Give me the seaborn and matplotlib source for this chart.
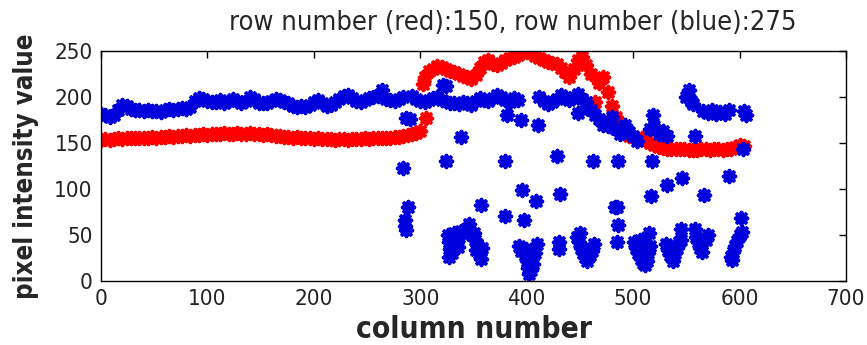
import matplotlib
matplotlib.use('Agg')
import matplotlib.pyplot as plt
from matplotlib import font_manager
import numpy as np
import pandas as pd
import seaborn as sns

# red row (row 150), one sample every 4 columns
red_cols = np.arange(0, 608, 4)
red_vals = [153, 154, 153, 154, 155, 154, 155, 155, 156, 155, 156, 156, 157, 156, 157, 157,
            158, 157, 158, 158, 159, 158, 159, 159, 160, 159, 160, 160, 160, 161, 160, 160,
            161, 160, 160, 161, 160, 160, 159, 160, 159, 158, 158, 157, 157, 156, 157, 156,
            155, 155, 154, 155, 154, 154, 154, 153, 154, 154, 153, 154, 154, 154, 155, 154,
            155, 155, 155, 156, 156, 157, 157, 158, 159, 160, 161, 163, 222, 228, 231, 234,
            233, 230, 228, 227, 225, 223, 222, 220, 224, 232, 238, 240, 236, 235, 237, 240,
            242, 244, 246, 248, 249, 248, 245, 242, 240, 238, 237, 236, 232, 227, 222, 230,
            240, 243, 235, 225, 195, 215, 222, 205, 190, 178, 165, 160, 158, 157, 156, 155,
            152, 150, 148, 146, 145, 144, 144, 143, 143, 143, 142, 142, 142, 143, 143, 142,
            143, 143, 142, 143, 144, 146, 148, 147]
red_extra_cols = [305, 303, 462]
red_extra_vals = [177, 214, 190]

# blue row (row 275): the continuous band
blue_cols = [0, 4, 8, 12, 16, 20, 24, 28, 32, 36, 40, 44, 48, 52, 56, 60, 64, 68, 72, 76,
             80, 84, 88, 92, 96, 100, 104, 108, 112, 116, 120, 124, 128, 132, 136, 140, 144,
             148, 152, 156, 160, 164, 168, 172, 176, 180, 184, 188, 192, 196, 200, 204, 208,
             212, 216, 220, 224, 228, 232, 236, 240, 244, 248, 252, 256, 260, 264, 268, 272,
             276, 280, 284, 292, 296, 300, 304, 308, 312, 316, 320, 328, 332, 336, 340, 344,
             348, 352, 356, 360, 364, 368, 372, 376, 380, 384, 388, 392, 412, 416, 420, 424,
             428, 432, 436, 440, 444, 448, 452, 456, 460, 464, 468, 472, 476, 480, 484, 488,
             492, 496, 500, 504, 516, 520, 524, 528, 532, 550, 552, 554, 556, 566, 570, 574,
             578, 582, 586, 590, 604, 606]
blue_vals = [182, 180, 178, 180, 186, 191, 190, 187, 186, 186, 185, 186, 185, 185, 184, 186,
             187, 186, 187, 188, 187, 189, 196, 199, 198, 196, 195, 195, 197, 194, 196, 198,
             196, 193, 196, 200, 198, 194, 193, 194, 196, 198, 197, 195, 193, 190, 189, 190,
             189, 191, 195, 197, 194, 190, 191, 195, 198, 201, 202, 199, 196, 195, 197, 199,
             200, 201, 208, 198, 197, 196, 198, 200, 201, 198, 196, 195, 197, 199, 200, 197,
             193, 194, 192, 195, 193, 191, 196, 199, 197, 196, 199, 202, 200, 197, 195, 199,
             197, 200, 196, 192, 195, 198, 202, 200, 197, 200, 203, 198, 195, 186, 180, 176,
             170, 168, 178, 165, 160, 170, 162, 158, 152, 165, 168, 160, 163, 158, 200, 208,
             196, 192, 185, 183, 186, 182, 184, 182, 186, 185, 180]

# blue row: scattered dark pixels
blue_out_cols = [284, 287, 290, 288, 286, 286, 287, 324, 321, 338, 324, 357, 346,
                 326, 327, 328, 330, 332, 334, 336, 330, 327, 338, 335,
                 349, 351, 353, 352, 355, 357, 350, 358,
                 381, 395, 411, 448, 380, 428, 462, 486, 396, 409, 431, 380, 397,
                 485, 486, 485,
                 393, 395, 398, 400, 401, 402, 404, 406, 408, 410, 399, 403,
                 430, 430, 447, 449, 451, 453, 455, 457, 459, 461, 463, 450,
                 519, 558, 603, 518, 546, 532, 590, 517, 567, 483, 601, 515, 545, 558,
                 501, 503, 505, 507, 509, 511, 513, 514, 516, 506,
                 531, 533, 535, 537, 539, 541, 543, 545,
                 559, 561, 563, 565, 568, 570,
                 592, 594, 596, 598, 600, 602, 593]
blue_out_vals = [123, 177, 176, 81, 66, 60, 55, 212, 213, 157, 131, 83, 62,
                 50, 42, 35, 46, 52, 40, 48, 30, 26, 54, 37,
                 50, 45, 40, 34, 30, 24, 52, 36,
                 180, 175, 170, 183, 131, 136, 131, 130, 99, 87, 95, 71, 66,
                 80, 61, 42,
                 38, 33, 28, 22, 14, 8, 12, 18, 30, 40, 35, 25,
                 35, 42, 48, 42, 36, 30, 26, 22, 28, 33, 40, 52,
                 181, 158, 144, 131, 112, 104, 114, 92, 93, 80, 68, 52, 57, 57,
                 42, 36, 30, 24, 20, 17, 22, 30, 38, 45,
                 40, 34, 28, 22, 30, 36, 42, 45,
                 48, 42, 36, 32, 45, 50,
                 26, 32, 38, 44, 50, 53, 23]

red_df = pd.DataFrame({'col': list(red_cols) + red_extra_cols,
                       'val': red_vals + red_extra_vals})
blue_df = pd.DataFrame({'col': blue_cols + blue_out_cols,
                        'val': blue_vals + blue_out_vals})

sns.set_style('white')
plt.rcParams['font.family'] = ['Liberation Sans', 'DejaVu Sans']


def find_font(keys):
    # pick a condensed / narrow face when one is installed
    for key in keys:
        for f in font_manager.fontManager.ttflist:
            if f.fname.split('/')[-1].lower() == key:
                return font_manager.FontProperties(fname=f.fname)
    return None


thin = find_font(['liberationsansnarrow-regular.ttf', 'dejavusanscondensed.ttf'])
heavy = find_font(['liberationsansnarrow-bold.ttf', 'dejavusanscondensed-bold.ttf'])
if thin is None:
    thin = font_manager.FontProperties(family='Liberation Sans')
if heavy is None:
    heavy = font_manager.FontProperties(family='Liberation Sans', weight='bold')

fig = plt.figure(figsize=(8.67, 3.45), dpi=100)
ax = fig.add_axes([0.1165, 0.1855, 0.8593, 0.6665])

asterisk = (8, 2, 0)
sns.scatterplot(data=red_df, x='col', y='val', ax=ax, marker=asterisk, s=70,
                color='#ff0000', edgecolor='#ff0000', linewidth=2.8, legend=False)
sns.scatterplot(data=blue_df, x='col', y='val', ax=ax, marker=asterisk, s=70,
                color='#0000dd', edgecolor='#0000dd', linewidth=2.8, legend=False)

ax.set_xlim(0, 700)
ax.set_ylim(0, 250)
ax.set_xticks(range(0, 701, 100))
ax.set_yticks(range(0, 251, 50))
ax.tick_params(direction='in', top=True, right=True, length=5, width=1,
               colors='black', pad=6)
for lab in ax.get_xticklabels() + ax.get_yticklabels():
    lab.set_fontproperties(thin)
    lab.set_fontsize(16)
    lab.set_color('#222222')
for s in ax.spines.values():
    s.set_linewidth(1)
    s.set_color('black')

t = ax.set_title('row number (red):150, row number (blue):275', pad=15, x=0.553)
t.set_fontproperties(thin)
t.set_fontsize(19.5)
xl = ax.set_xlabel('column number', labelpad=4)
xl.set_fontproperties(heavy)
xl.set_fontsize(21.5)
yl = ax.set_ylabel('pixel intensity value', labelpad=11)
yl.set_fontproperties(heavy)
yl.set_fontsize(18.5)

fig.savefig('out.png', dpi=100)
